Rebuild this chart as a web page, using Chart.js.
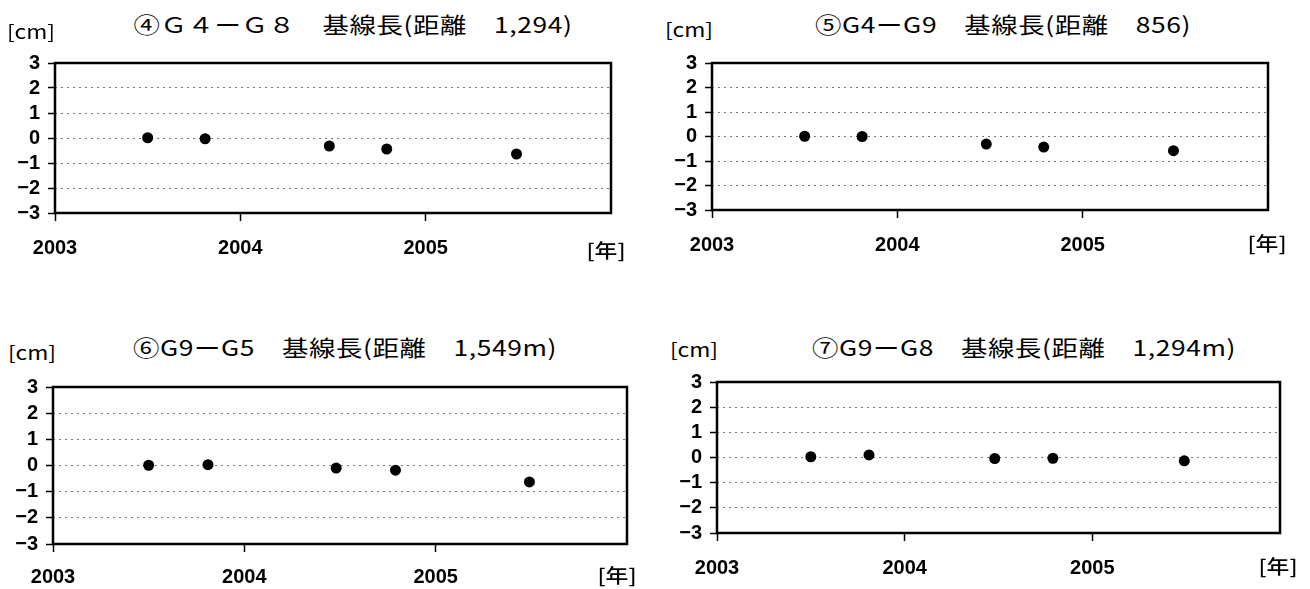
<!DOCTYPE html>
<html>
<head>
<meta charset="utf-8">
<script src="https://cdn.jsdelivr.net/npm/chart.js@4/dist/chart.umd.min.js"></script>
<style>
  body { margin: 0; background: #fff; width: 1310px; height: 589px; overflow: hidden; position: relative; }
  .box { position: absolute; }
  .lbl { position: absolute; transform: translate(-50%, -50%) scaleX(1.2); white-space: nowrap; color: #000; }
  .ttl { font-family: "Noto Sans CJK JP", sans-serif; font-size: 22px; font-weight: 400; letter-spacing: 0.5px; }
  .unit { font-family: "Noto Sans CJK JP", sans-serif; font-size: 19px; font-weight: 400; }
  .cjk { font-family: "Noto Sans CJK JP", sans-serif; font-size: 19px; font-weight: 500; }
</style>
</head>
<body>
<script>
// observation dates (decimal years), shared by all four baselines
const obsDates = [2003.50, 2003.81, 2004.48, 2004.79, 2005.49];

// baseline change [cm]
const g4g8 = [0.01, -0.03, -0.32, -0.44, -0.64];
const g4g9 = [0.01, 0.00, -0.31, -0.43, -0.58];
const g9g5 = [0.01, 0.03, -0.10, -0.18, -0.63];
const g9g8 = [0.03, 0.10, -0.04, -0.03, -0.13];

const titles = [
  "④Ｇ４ーＧ８　基線長(距離　1,294)",
  "⑤G4ーG9　基線長(距離　856)",
  "⑥G9ーG5　基線長(距離　1,549m)",
  "⑦G9ーG8　基線長(距離　1,294m)"
];
const yTicks = [-3, -2, -1, 0, 1, 2, 3];
const xTicks = [2003, 2004, 2005];
const xMin = 2003, xMax = 2006;

// layout of each panel: plot box edges and text anchors
const panels = [
  { data: g4g8, l: 55,  t: 55,  r: 611,  b: 213, tx: 353,  ty: 23,  cx: 31,  cy: 30,  nx: 606,  ny: 249, pad: 15 },
  { data: g4g9, l: 712, t: 55,  r: 1268, b: 210, tx: 1003, ty: 23,  cx: 689, cy: 28,  nx: 1267, ny: 242, pad: 15 },
  { data: g9g5, l: 53,  t: 379, r: 627,  b: 544, tx: 345,  ty: 346, cx: 32,  cy: 351, nx: 617,  ny: 574, pad: 13 },
  { data: g9g8, l: 717, t: 374, r: 1280, b: 533, tx: 1024, ty: 346, cx: 694, cy: 348, nx: 1278, ny: 565, pad: 15 }
];

const Y_W = 55, TOP_PAD = 12, RIGHT_PAD = 8, X_H = 60;

function addText(cls, text, x, y) {
  const d = document.createElement('div');
  d.className = 'lbl ' + cls;
  d.textContent = text;
  d.style.left = x + 'px';
  d.style.top = y + 'px';
  document.body.appendChild(d);
}

const frame = {
  id: 'frame',
  afterDraw(chart) {
    const a = chart.chartArea, ctx = chart.ctx;
    ctx.save();
    ctx.strokeStyle = '#000';
    ctx.lineWidth = 2.5;
    ctx.strokeRect(a.left, a.top, a.right - a.left, a.bottom - a.top);
    ctx.restore();
  }
};

const tickFont = { family: "'Liberation Sans', Arial, sans-serif", size: 20, weight: 'bold' };

panels.forEach((p, i) => {
  const wrap = document.createElement('div');
  wrap.className = 'box';
  const w = Y_W + (p.r - p.l) + RIGHT_PAD;
  const h = TOP_PAD + (p.b - p.t) + X_H;
  wrap.style.left = (p.l - Y_W) + 'px';
  wrap.style.top = (p.t - TOP_PAD) + 'px';
  wrap.style.width = w + 'px';
  wrap.style.height = h + 'px';
  const cv = document.createElement('canvas');
  wrap.appendChild(cv);
  document.body.appendChild(wrap);

  addText('ttl', titles[i], p.tx, p.ty);
  addText('unit', '[cm]', p.cx, p.cy);
  addText('cjk', '[年]', p.nx, p.ny);

  new Chart(cv, {
    type: 'scatter',
    data: {
      datasets: [{
        data: obsDates.map((d, k) => ({ x: d, y: p.data[k] })),
        backgroundColor: '#000',
        borderWidth: 0,
        pointRadius: 5.5,
        showLine: false
      }]
    },
    options: {
      responsive: true,
      maintainAspectRatio: false,
      animation: false,
      layout: { padding: { left: 0, top: TOP_PAD, right: RIGHT_PAD, bottom: 0 } },
      plugins: { legend: { display: false }, tooltip: { enabled: false } },
      scales: {
        x: {
          type: 'linear',
          min: xMin,
          max: xMax,
          afterBuildTicks: s => { s.ticks = xTicks.map(v => ({ value: v })); },
          afterFit: s => { s.height = X_H; },
          ticks: { color: '#000', font: tickFont, padding: p.pad, maxRotation: 0, autoSkip: false, callback: v => String(v) },
          grid: { drawOnChartArea: false, drawTicks: true, tickLength: 8, tickColor: '#000', tickWidth: 1.5 },
          border: { display: false }
        },
        y: {
          min: -3,
          max: 3,
          afterBuildTicks: s => { s.ticks = yTicks.map(v => ({ value: v })); },
          afterFit: s => { s.width = Y_W; },
          ticks: { color: '#000', font: tickFont, padding: 8, autoSkip: false, callback: v => String(v).replace('-', '−') },
          grid: {
            color: c => (Math.abs(c.tick.value) === 3 ? 'rgba(0,0,0,0)' : '#777'),
            lineWidth: 1,
            tickLength: 7,
            tickColor: '#000',
            tickWidth: 1.5,
            tickBorderDash: []
          },
          border: { display: false, dash: [2, 4] }
        }
      }
    },
    plugins: [frame]
  });
});
</script>
</body>
</html>
